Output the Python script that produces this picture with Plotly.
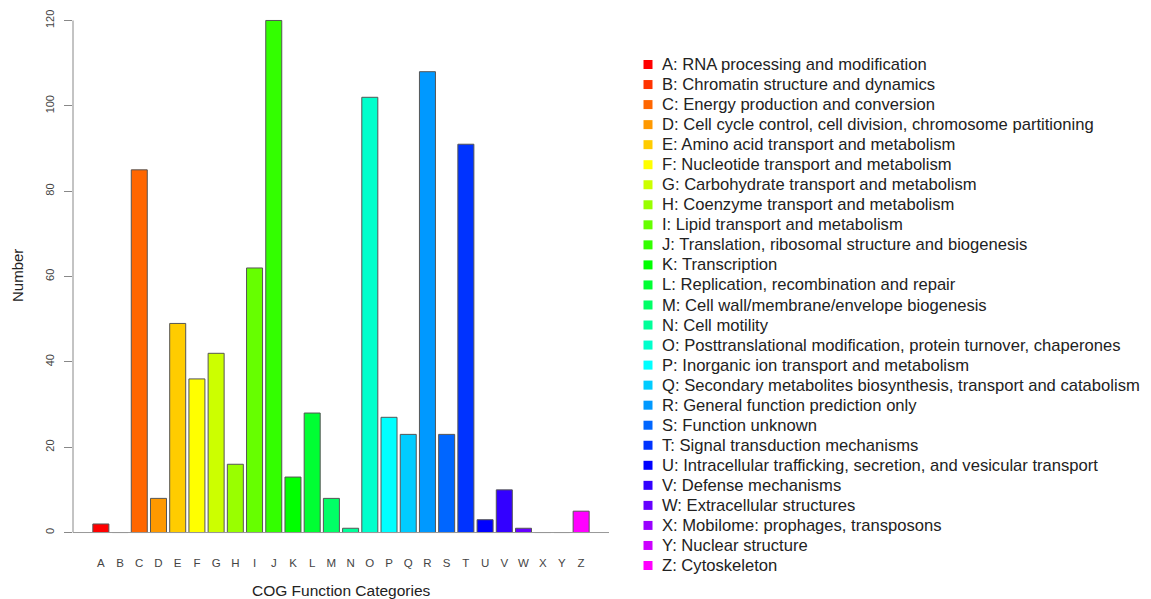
import colorsys
import plotly.graph_objects as go

# COG category codes, descriptions and gene counts
codes = list("ABCDEFGHIJKLMNOPQRSTUVWXYZ")
descriptions = [
    "RNA processing and modification",
    "Chromatin structure and dynamics",
    "Energy production and conversion",
    "Cell cycle control, cell division, chromosome partitioning",
    "Amino acid transport and metabolism",
    "Nucleotide transport and metabolism",
    "Carbohydrate transport and metabolism",
    "Coenzyme transport and metabolism",
    "Lipid transport and metabolism",
    "Translation, ribosomal structure and biogenesis",
    "Transcription",
    "Replication, recombination and repair",
    "Cell wall/membrane/envelope biogenesis",
    "Cell motility",
    "Posttranslational modification, protein turnover, chaperones",
    "Inorganic ion transport and metabolism",
    "Secondary metabolites biosynthesis, transport and catabolism",
    "General function prediction only",
    "Function unknown",
    "Signal transduction mechanisms",
    "Intracellular trafficking, secretion, and vesicular transport",
    "Defense mechanisms",
    "Extracellular structures",
    "Mobilome: prophages, transposons",
    "Nuclear structure",
    "Cytoskeleton",
]
counts = [2, 0, 85, 8, 49, 36, 42, 16, 62, 120, 13, 28, 8, 1,
          102, 27, 23, 108, 23, 91, 3, 10, 1, 0, 0, 5]
y_ticks = [0, 20, 40, 60, 80, 100, 120]

# rainbow palette (30 hues, first 26 used)
def rainbow(n, k):
    out = []
    for i in range(k):
        r, g, b = colorsys.hsv_to_rgb(i / n, 1, 1)
        out.append("#%02X%02X%02X" % (round(r * 255), round(g * 255), round(b * 255)))
    return out

colors = rainbow(30, len(codes))
legend_labels = [f"{c}: {d}" for c, d in zip(codes, descriptions)]

W, H = 1151, 599
FONT = "Liberation Sans, Arial, Helvetica, sans-serif"
plot_left, plot_right = 73, 609
plot_bottom = 553

# legend rows layout (pixel units)
row0, row_step = 64.5, 20.04
leg_left = 640
idx = list(range(len(codes)))

fig = go.Figure()

fig.add_trace(go.Bar(
    x=codes, y=counts,
    marker=dict(color=colors, line=dict(color="#555555", width=1)),
    showlegend=False, hoverinfo="x+y",
))

# legend squares and labels on their own axes
fig.add_trace(go.Scatter(
    x=[0] * len(idx), y=idx, mode="markers",
    marker=dict(symbol="square", size=9, color=colors, line=dict(width=0)),
    xaxis="x2", yaxis="y2", showlegend=False, hoverinfo="skip",
))
fig.add_trace(go.Scatter(
    x=[14] * len(idx), y=[i + 0.07 for i in idx], mode="text", text=legend_labels,
    textposition="middle right",
    textfont=dict(family=FONT, size=16.6, color="#222222"),
    xaxis="x2", yaxis="y2", showlegend=False, hoverinfo="skip",
    cliponaxis=False,
))

fig.update_layout(
    width=W, height=H,
    margin=dict(l=0, r=0, t=0, b=0),
    paper_bgcolor="white", plot_bgcolor="white",
    bargap=1 - 1 / 1.2,
    font=dict(family=FONT, color="#333333"),
    xaxis=dict(
        domain=[plot_left / W, plot_right / W],
        range=[-1.45, 26.45],
        showgrid=False, zeroline=False, showline=False,
        ticks="", tickfont=dict(size=11.5, color="#444444"),
        ticklabelstandoff=1,
        automargin=False, fixedrange=True,
    ),
    yaxis=dict(
        domain=[(H - plot_bottom) / H, 1],
        range=[-4.8, 124.8],
        tickvals=y_ticks,
        showgrid=False, zeroline=False, showline=False,
        ticks="outside", ticklen=8, tickcolor="#888888", tickwidth=1,
        tickangle=-90,
        tickfont=dict(size=11, color="#444444"),
        ticklabelstandoff=6,
        automargin=False, fixedrange=True,
    ),
    xaxis2=dict(
        domain=[leg_left / W, 1], range=[-8, W - leg_left - 8],
        visible=False, fixedrange=True,
    ),
    yaxis2=dict(
        domain=[0, 1],
        range=[(H - row0) / row_step, -row0 / row_step],
        visible=False, fixedrange=True,
    ),
    shapes=[
        dict(type="line", xref="x domain", yref="y", x0=0, x1=0, y0=0, y1=120,
             line=dict(color="#888888", width=1)),
        dict(type="line", xref="x domain", yref="y", x0=0, x1=1, y0=0, y1=0,
             line=dict(color="#999999", width=1)),
    ],
    annotations=[
        dict(text="Number", xref="paper", yref="paper",
             x=18 / W, y=1 - 276 / H, xanchor="center", yanchor="middle",
             textangle=-90, showarrow=False,
             font=dict(size=15, color="#222222")),
        dict(text="COG Function Categories", xref="paper", yref="paper",
             x=(plot_left + plot_right) / 2 / W, y=1 - 590 / H,
             xanchor="center", yanchor="middle", showarrow=False,
             font=dict(size=15.5, color="#222222")),
    ],
)

fig.write_html("out.html")
